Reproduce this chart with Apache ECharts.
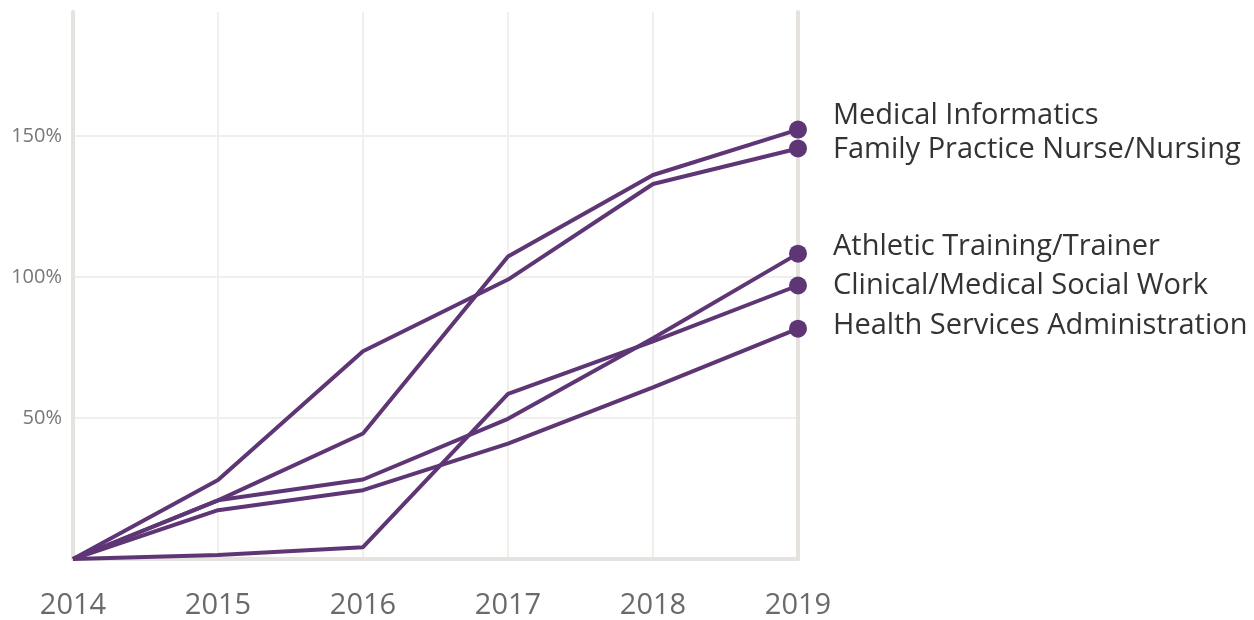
<!DOCTYPE html>
<html><head><meta charset="utf-8">
<script src="https://cdn.jsdelivr.net/npm/echarts@6/dist/echarts.min.js"></script>
<style>html,body{margin:0;padding:0;background:#fff}#c{width:1254px;height:620px}</style>
</head><body><div id="c"></div>
<script>
const years = ['2014','2015','2016','2017','2018','2019'];
const seriesNames = ['Medical Informatics','Family Practice Nurse/Nursing','Athletic Training/Trainer','Clinical/Medical Social Work','Health Services Administration'];
const medicalInformatics = [0, 20.8, 44.5, 107.3, 136.2, 152.3];
const familyPractice = [0, 28.0, 73.7, 99.1, 133.0, 145.6];
const athleticTraining = [0, 20.8, 28.2, 49.7, 78.3, 108.3];
const clinicalSocialWork = [0, 1.4, 4.2, 58.6, 77.2, 97.0];
const healthServicesAdmin = [0, 17.3, 24.4, 40.9, 60.9, 81.7];
const yTicks = [0, 50, 100, 150];

const values = [medicalInformatics, familyPractice, athleticTraining, clinicalSocialWork, healthServicesAdmin];
const labelOffsets = [-14, 1, -7, 0, -3];
const color = '#5f3675';

const chart = echarts.init(document.getElementById('c'), null, {renderer:'canvas'});
chart.setOption({
  animation: false,
  textStyle: {fontFamily: 'Open Sans'},
  grid: {left: 73, right: 456, top: 12, bottom: 59, containLabel: false},
  xAxis: {
    type: 'category', data: years, boundaryGap: false,
    axisLine: {show: true, lineStyle: {color: '#e6e3df', width: 4}},
    axisTick: {show: false},
    axisLabel: {color: '#6a6a6a', fontSize: 29, margin: 32, fontFamily: 'Open Sans'},
    splitLine: {show: true, lineStyle: {color: '#f1efec', width: 2}}
  },
  yAxis: [{
    type: 'value', min: 0, max: 194, interval: 50,
    axisLine: {show: true, lineStyle: {color: '#e6e3df', width: 4}},
    axisTick: {show: false},
    axisLabel: {color: '#777', fontSize: 20, margin: 11, fontFamily: 'Open Sans',
      formatter: v => (yTicks.indexOf(v) > 0 ? v + '%' : '')},
    splitLine: {show: true, lineStyle: {color: ['#f1efec','#f1efec','#f1efec','#f1efec','rgba(0,0,0,0)'], width: 2}}
  }, {
    type: 'value', min: 0, max: 194, interval: 50, position: 'right',
    axisLine: {show: true, lineStyle: {color: '#e6e3df', width: 4}},
    axisTick: {show: false}, axisLabel: {show: false}, splitLine: {show: false}
  }],
  series: seriesNames.map((name, i) => ({
    name, type: 'line', yAxisIndex: 0,
    symbol: 'none', showSymbol: true,
    lineStyle: {color, width: 4},
    itemStyle: {color},
    data: values[i].map((v, j) => j === values[i].length - 1 ? {value: v, symbol: 'circle', symbolSize: 18} : v),
    endLabel: {show: true, formatter: '{a}', color: '#333', fontSize: 29, fontFamily: 'Open Sans', distance: 35, offset: [0, labelOffsets[i]]},
    z: 3
  }))
});
</script></body></html>
